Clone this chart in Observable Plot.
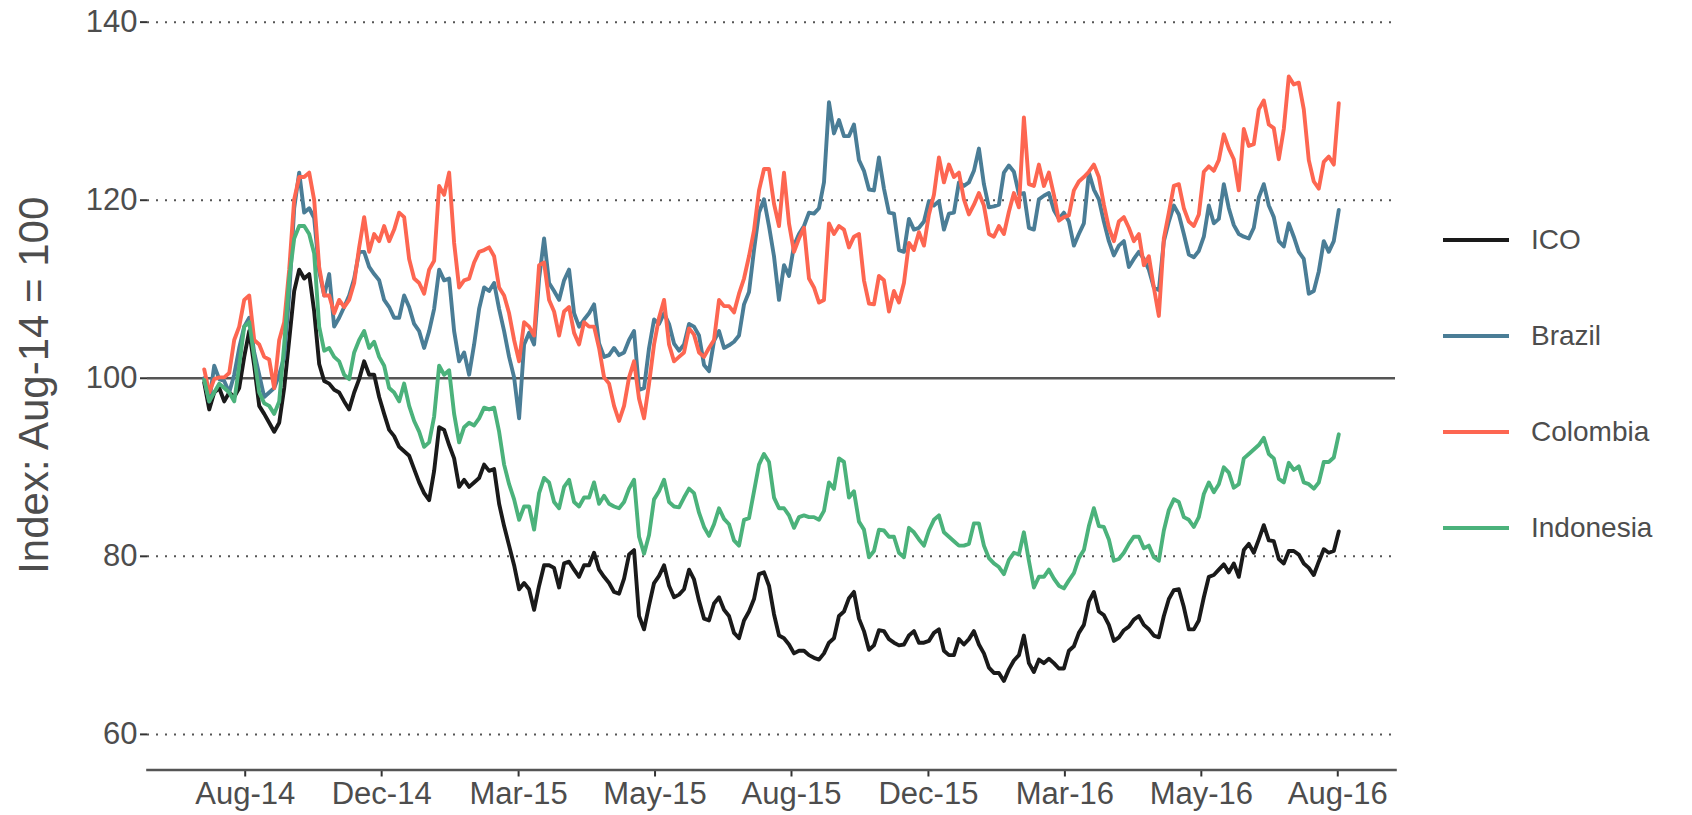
<!DOCTYPE html>
<html>
<head>
<meta charset="utf-8">
<script src="https://cdn.jsdelivr.net/npm/d3@7"></script>
<script src="https://cdn.jsdelivr.net/npm/@observablehq/plot@0.6"></script>
<style>
  html, body { margin: 0; padding: 0; background: #fff; }
  #wrap { position: relative; width: 1692px; height: 815px; font-family: "Liberation Sans", Arial, sans-serif; }
  #legend { position: absolute; left: 1443px; top: 0; }
  .item { position: absolute; left: 0; display: flex; align-items: center; white-space: nowrap; transform: translateY(-50%); }
  .swatch { width: 66px; height: 4px; margin-right: 22px; }
  .lab { font-size: 28px; color: #4d4d4d; }
</style>
</head>
<body>
<div id="wrap"><div id="legend"></div></div>
<script>
// Series names and colours
const seriesNames = ["ICO", "Brazil", "Colombia", "Indonesia"];
const seriesColors = ["#1a1a1a", "#4a7d96", "#fd6651", "#4bb27b"];

// X-axis tick positions (observation index) and labels
const tickObs = [8.2, 35.5, 62.9, 90.2, 117.5, 144.9, 172.2, 199.5, 226.8];
const tickLabels = ["Aug-14", "Dec-14", "Mar-15", "May-15", "Aug-15", "Dec-15", "Mar-16", "May-16", "Aug-16"];
const yTicks = [60, 80, 100, 120, 140];

// Index values (Aug-14 = 100), one value per observation
const ico = [
  99.5, 96.5, 98.4, 98.9, 97.4, 98.4, 97.9, 98.9, 102.4, 105.3,
  101.4, 96.9, 96.0, 95.0, 94.0, 95.0, 98.9, 104.3, 109.8, 112.2,
  111.2, 111.7, 107.5, 101.6, 99.7, 99.4, 98.7, 98.4, 97.4, 96.5,
  98.4, 99.9, 101.9, 100.4, 100.4, 97.9, 96.0, 94.2, 93.5, 92.3,
  91.8, 91.3, 89.8, 88.3, 87.1, 86.3, 89.6, 94.5, 94.2, 92.5,
  91.0, 87.8, 88.6, 87.8, 88.3, 88.8, 90.3, 89.6, 89.8, 85.9,
  83.4, 81.2, 79.0, 76.3, 77.0, 76.3, 74.0, 76.7, 79.0, 79.0,
  78.7, 76.5, 79.2, 79.4, 78.5, 77.7, 79.0, 79.0, 80.4, 78.5,
  77.7, 77.0, 76.0, 75.8, 77.5, 80.2, 80.7, 73.3, 71.8, 74.5,
  77.0, 77.8, 79.0, 76.7, 75.4, 75.7, 76.3, 78.5, 77.4, 75.0,
  73.0, 72.8, 74.7, 75.4, 74.0, 73.3, 71.4, 70.8, 72.8, 73.8,
  75.2, 78.0, 78.2, 76.7, 73.5, 71.1, 70.8, 70.1, 69.1, 69.4,
  69.4, 68.9, 68.6, 68.4, 69.1, 70.3, 70.8, 73.3, 73.8, 75.3,
  76.0, 73.0, 71.6, 69.5, 70.0, 71.7, 71.6, 70.7, 70.3, 70.0,
  70.1, 71.1, 71.6, 70.3, 70.3, 70.5, 71.4, 71.8, 69.4, 68.9,
  68.9, 70.7, 70.1, 70.7, 71.6, 70.1, 69.1, 67.5, 66.9, 66.9,
  66.0, 67.3, 68.3, 68.9, 71.1, 68.0, 67.0, 68.4, 68.0, 68.5,
  68.0, 67.4, 67.4, 69.4, 69.9, 71.4, 72.3, 74.9, 76.0, 73.8,
  73.4, 72.3, 70.5, 70.9, 71.7, 72.1, 72.9, 73.3, 72.3, 71.8,
  71.1, 70.9, 73.3, 75.2, 76.2, 76.3, 74.3, 71.8, 71.8, 72.8,
  75.4, 77.7, 77.9, 78.5, 79.1, 78.2, 79.2, 77.7, 80.7, 81.4,
  80.4, 81.9, 83.5, 81.8, 81.7, 79.7, 79.2, 80.6, 80.6, 80.2,
  79.2, 78.7, 77.9, 79.4, 80.8, 80.4, 80.6, 82.8
];
const brazil = [
  100.0, 97.4, 101.4, 99.9, 99.7, 98.4, 100.4, 103.4, 105.8, 106.8,
  102.9, 100.4, 97.9, 98.4, 98.9, 100.4, 102.4, 109.3, 119.1, 123.1,
  118.6, 119.1, 118.0, 112.0, 109.3, 111.7, 105.8, 106.8, 108.0, 109.3,
  111.2, 114.2, 114.2, 112.5, 111.7, 111.0, 108.8, 108.0, 106.8, 106.8,
  109.3, 108.0, 106.1, 105.3, 103.4, 105.3, 107.8, 112.2, 111.0, 111.2,
  105.3, 101.9, 102.9, 100.4, 103.8, 107.8, 110.2, 109.8, 110.7, 107.8,
  105.3, 102.4, 100.1, 95.5, 103.8, 105.1, 103.8, 111.2, 115.7, 110.7,
  109.8, 108.8, 111.0, 112.2, 107.3, 105.8, 106.6, 107.3, 108.3, 103.9,
  102.4, 102.6, 103.4, 102.6, 102.9, 104.3, 105.3, 98.7, 98.9, 103.4,
  106.6, 106.1, 107.3, 106.1, 103.9, 103.1, 103.8, 106.1, 105.8, 104.8,
  101.5, 100.8, 104.2, 105.3, 103.4, 103.7, 104.1, 104.8, 108.3, 109.7,
  114.4, 118.6, 120.1, 117.1, 113.7, 108.8, 112.7, 111.5, 114.9, 116.2,
  117.1, 118.6, 118.5, 119.1, 122.0, 131.0, 127.5, 129.0, 127.2, 127.2,
  128.5, 124.5, 123.3, 121.2, 121.1, 124.8, 121.3, 118.6, 118.5, 114.4,
  114.2, 117.9, 116.7, 116.9, 117.6, 119.9, 119.4, 119.9, 116.7, 118.5,
  118.6, 122.0, 121.6, 122.0, 123.3, 125.8, 121.8, 119.2, 119.3, 119.5,
  123.1, 123.9, 123.2, 120.7, 120.8, 116.9, 116.7, 120.1, 120.5, 120.8,
  118.9, 117.9, 118.6, 117.6, 114.9, 116.2, 117.4, 123.1, 121.2, 120.1,
  117.6, 115.4, 113.8, 114.9, 115.4, 112.5, 113.4, 114.2, 113.4, 112.2,
  110.2, 109.9, 115.4, 117.6, 119.4, 118.4, 116.2, 113.9, 113.6, 114.3,
  115.9, 119.4, 117.4, 117.9, 121.8, 119.1, 117.2, 116.2, 115.9, 115.7,
  116.9, 120.3, 121.8, 119.4, 118.1, 115.4, 114.8, 117.4, 115.9, 114.2,
  113.4, 109.5, 109.8, 112.0, 115.4, 114.2, 115.4, 118.9
];
const colombia = [
  101.0, 98.4, 99.9, 100.1, 100.1, 100.6, 104.3, 105.8, 108.8, 109.3,
  104.3, 103.8, 102.4, 102.1, 98.9, 104.3, 106.3, 112.2, 120.1, 122.6,
  122.6, 123.1, 120.0, 112.5, 109.3, 109.3, 107.3, 108.8, 108.0, 108.8,
  110.7, 114.7, 118.1, 114.2, 116.2, 115.4, 117.1, 115.4, 116.7, 118.6,
  118.1, 113.4, 111.2, 110.7, 109.5, 112.2, 113.2, 121.6, 120.6, 123.1,
  115.2, 110.2, 111.0, 111.2, 113.0, 114.2, 114.4, 114.7, 113.7, 110.2,
  109.3, 107.3, 104.3, 101.9, 106.3, 105.8, 104.8, 112.7, 113.0, 108.8,
  107.5, 104.8, 107.5, 108.0, 105.1, 103.8, 106.3, 105.8, 105.8, 103.4,
  100.1, 99.4, 96.9, 95.2, 96.9, 100.1, 101.9, 97.7, 95.5, 99.4,
  103.8, 106.8, 108.8, 103.8, 101.9, 102.4, 102.9, 105.6, 104.9, 102.9,
  102.4, 103.4, 104.3, 108.8, 108.1, 108.1, 107.4, 109.5, 111.2, 113.7,
  116.6, 121.1, 123.5, 123.5, 119.6, 117.1, 123.1, 117.4, 114.2, 115.7,
  116.9, 111.2, 110.2, 108.5, 108.8, 117.4, 116.2, 117.1, 116.7, 114.7,
  115.9, 116.2, 111.0, 108.4, 108.3, 111.5, 111.0, 107.5, 109.8, 108.5,
  110.7, 115.2, 114.4, 116.4, 114.9, 118.4, 120.6, 124.8, 122.0, 124.0,
  122.6, 123.1, 120.1, 118.4, 119.5, 120.8, 119.4, 116.2, 115.9, 117.1,
  116.2, 118.7, 120.8, 119.2, 129.3, 121.8, 121.6, 124.0, 121.6, 123.1,
  120.6, 117.7, 118.1, 118.3, 121.1, 122.1, 122.6, 123.2, 124.0, 122.6,
  119.5, 116.9, 115.4, 117.6, 118.1, 116.9, 115.4, 116.2, 112.7, 113.7,
  110.2, 107.0, 115.7, 118.6, 121.6, 121.8, 119.1, 117.6, 117.1, 118.4,
  123.2, 123.8, 123.3, 124.5, 127.4, 125.8, 124.6, 121.1, 128.0, 126.1,
  126.3, 130.2, 131.2, 128.5, 128.1, 124.6, 128.0, 133.9, 133.0, 133.2,
  130.2, 124.5, 122.1, 121.3, 124.3, 124.9, 124.0, 130.9
];
const indonesia = [
  99.8, 97.4, 98.4, 99.4, 98.9, 98.4, 97.4, 101.4, 105.8, 106.3,
  102.4, 98.4, 97.2, 96.9, 96.0, 97.4, 103.8, 111.2, 115.7, 117.1,
  117.1, 116.2, 114.0, 105.8, 103.1, 103.4, 102.4, 101.9, 100.4, 99.9,
  102.9, 104.3, 105.3, 103.4, 104.1, 102.4, 101.4, 98.9, 98.4, 97.4,
  99.4, 96.9, 95.2, 94.0, 92.3, 92.8, 95.7, 101.4, 100.4, 100.9,
  96.0, 92.8, 94.5, 95.0, 94.7, 95.5, 96.7, 96.5, 96.7, 94.0,
  90.3, 88.1, 86.4, 84.1, 85.6, 85.6, 83.0, 87.1, 88.8, 88.3,
  86.1, 85.4, 87.8, 88.6, 86.1, 85.6, 86.6, 86.6, 88.3, 85.9,
  86.8, 85.9, 85.6, 85.4, 86.1, 87.6, 88.6, 82.2, 80.3, 82.4,
  86.4, 87.3, 88.6, 86.1, 85.6, 85.5, 86.6, 87.6, 87.1, 84.9,
  83.3, 82.3, 83.6, 85.4, 84.2, 83.6, 81.8, 81.2, 84.1, 84.3,
  87.3, 90.3, 91.5, 90.6, 86.6, 85.4, 85.4, 84.6, 83.2, 84.4,
  84.6, 84.4, 84.4, 84.1, 85.1, 88.3, 87.6, 91.0, 90.6, 86.6,
  87.3, 83.9, 83.0, 79.9, 80.6, 83.0, 82.9, 82.2, 82.2, 80.4,
  79.9, 83.2, 82.7, 81.9, 81.2, 82.9, 84.1, 84.6, 82.7, 82.2,
  81.7, 81.2, 81.2, 81.4, 83.7, 83.7, 81.2, 79.8, 79.2, 78.8,
  78.0, 79.6, 80.4, 80.2, 82.7, 79.5, 76.5, 77.7, 77.7, 78.5,
  77.5, 76.7, 76.4, 77.3, 78.1, 79.8, 80.7, 83.4, 85.4, 83.4,
  83.3, 81.9, 79.5, 79.7, 80.4, 81.4, 82.2, 82.2, 80.9, 81.2,
  79.9, 79.5, 82.9, 85.2, 86.4, 86.1, 84.4, 84.1, 83.3, 84.4,
  87.0, 88.3, 87.2, 88.1, 90.0, 89.4, 87.7, 88.1, 91.0, 91.5,
  92.0, 92.5, 93.3, 91.5, 91.0, 88.7, 88.3, 90.5, 89.7, 90.1,
  88.3, 88.1, 87.6, 88.3, 90.6, 90.6, 91.1, 93.7
];

const seriesValues = [ico, brazil, colombia, indonesia];
const table = seriesNames.flatMap((name, k) =>
  seriesValues[k].map((v, i) => ({series: name, obs: i, value: v}))
);

const nObs = ico.length - 1;
const pad = nObs * 0.05;
const FONT = '"Liberation Sans", Arial, Helvetica, sans-serif';

const chart = Plot.plot({
  width: 1692,
  height: 815,
  marginLeft: 147,
  marginRight: 297,
  marginTop: 0,
  marginBottom: 45.5,
  style: {fontFamily: FONT, background: "#fff", overflow: "visible"},
  x: {domain: [-pad, nObs + pad]},
  y: {domain: [56, 142.43]},
  color: {domain: seriesNames, range: seriesColors},
  marks: [
    Plot.ruleY(yTicks.filter(d => d !== 100), {stroke: "#555", strokeWidth: 2, strokeDasharray: "2,7"}),
    Plot.ruleY([100], {stroke: "#555", strokeWidth: 2.3}),
    Plot.lineY(table, {x: "obs", y: "value", z: "series", stroke: "series", strokeWidth: 3.9, strokeLinejoin: "round"}),
    Plot.axisY({ticks: yTicks, tickSize: 7, tickPadding: 3, fontSize: 31, stroke: "#333", strokeWidth: 2, fill: "#4d4d4d", label: null}),
    Plot.axisY({ticks: [], label: "Index: Aug-14 = 100", labelAnchor: "center", labelArrow: "none", labelOffset: 129, fontSize: 42, fill: "#4d4d4d"}),
    Plot.axisX({ticks: tickObs, tickFormat: (d, i) => tickLabels[i], tickSize: 7, tickPadding: 5, fontSize: 31, stroke: "#333", strokeWidth: 2, fill: "#4d4d4d", label: null}),
    Plot.frame({anchor: "bottom", stroke: "#555", strokeWidth: 2.6})
  ]
});
document.getElementById("wrap").prepend(chart);

// Legend (right side)
const rowTop = [240, 336, 432, 528];
const legend = d3.select("#legend");
seriesNames.forEach((name, k) => {
  const item = legend.append("div").attr("class", "item").style("top", rowTop[k] + "px");
  item.append("div").attr("class", "swatch").style("background", seriesColors[k]);
  item.append("span").attr("class", "lab").text(name);
});
</script>
</body>
</html>
